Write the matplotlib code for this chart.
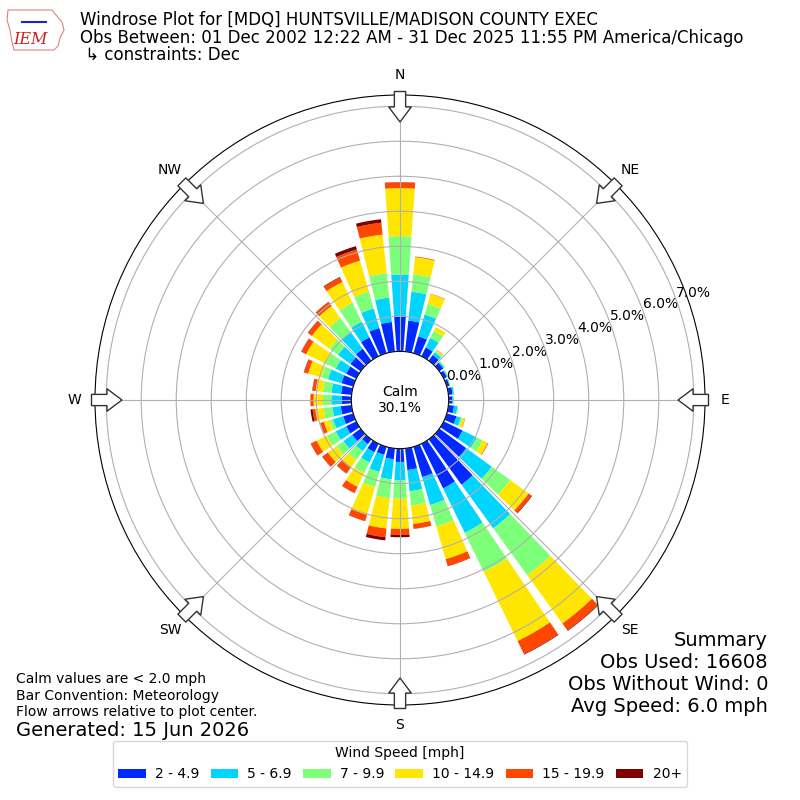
import numpy as np
import matplotlib
matplotlib.use("Agg")
import matplotlib.pyplot as plt
from matplotlib.patches import Polygon

# wind direction bins (degrees, from), 10 deg wide
directions = np.arange(0, 360, 10)

# frequency [% of all obs] per direction bin and speed class
spd_2_5 = [1.00, 0.89, 0.50, 0.28, 0.20, 0.14, 0.10, 0.08, 0.12, 0.10, 0.16, 0.29,
           0.60, 0.95, 1.60, 1.42, 0.90, 0.62, 0.38, 0.31, 0.24, 0.27, 0.17, 0.30,
           0.32, 0.30, 0.31, 0.28, 0.30, 0.35, 0.32, 0.36, 0.42, 0.60, 0.75, 0.85]
spd_5_7 = [1.19, 0.83, 0.65, 0.30, 0.10, 0.04, 0.03, 0.02, 0.04, 0.04, 0.10, 0.13,
           0.45, 0.90, 1.54, 1.41, 0.83, 0.61, 0.53, 0.58, 0.51, 0.33, 0.25, 0.31,
           0.33, 0.30, 0.24, 0.29, 0.28, 0.40, 0.33, 0.44, 0.58, 0.50, 0.58, 0.70]
spd_7_10 = [1.10, 0.50, 0.31, 0.22, 0.04, 0.02, 0.01, 0.01, 0.01, 0.01, 0.02, 0.04,
            0.19, 0.65, 1.66, 1.24, 0.64, 0.41, 0.52, 0.54, 0.45, 0.33, 0.31, 0.24,
            0.28, 0.10, 0.25, 0.24, 0.24, 0.20, 0.33, 0.30, 0.50, 0.60, 0.50, 0.70]
spd_10_15 = [1.37, 0.49, 0.30, 0.13, 0.04, 0.01, 0.01, 0.00, 0.00, 0.01, 0.01, 0.08,
             0.16, 0.65, 1.70, 2.20, 0.97, 0.53, 0.86, 0.87, 0.82, 0.44, 0.25, 0.31,
             0.33, 0.17, 0.24, 0.27, 0.21, 0.39, 0.61, 0.62, 0.43, 0.66, 0.92, 1.11]
spd_15_20 = [0.16, 0.02, 0.01, 0.00, 0.01, 0.00, 0.00, 0.00, 0.00, 0.00, 0.00, 0.01,
             0.02, 0.10, 0.24, 0.41, 0.20, 0.13, 0.17, 0.25, 0.18, 0.19, 0.22, 0.19,
             0.18, 0.10, 0.08, 0.09, 0.09, 0.12, 0.15, 0.14, 0.14, 0.14, 0.33, 0.34]
spd_20 = [0.01, 0.00, 0.00, 0.00, 0.00, 0.00, 0.00, 0.00, 0.00, 0.00, 0.00, 0.00,
          0.00, 0.02, 0.02, 0.02, 0.01, 0.01, 0.07, 0.09, 0.01, 0.01, 0.01, 0.01,
          0.01, 0.01, 0.06, 0.00, 0.01, 0.01, 0.01, 0.01, 0.01, 0.02, 0.10, 0.10]

speed_labels = ["2 - 4.9", "5 - 6.9", "7 - 9.9", "10 - 14.9", "15 - 19.9", "20+"]
calm_pct = 30.1
compass = ["N", "NE", "E", "SE", "S", "SW", "W", "NW"]
ring_ticks = [0, 1, 2, 3, 4, 5, 6, 7]

series = [spd_2_5, spd_5_7, spd_7_10, spd_10_15, spd_15_20, spd_20]
colors = plt.cm.jet(np.linspace(0, 1, 7)[1:])

fig = plt.figure(figsize=(8, 8), dpi=100)
ax = fig.add_axes([0.11875, 0.11875, 0.7625, 0.7625], projection="polar")
ax.set_theta_zero_location("N")
ax.set_theta_direction(-1)

theta = np.deg2rad(directions)
width = np.deg2rad(10) * 0.8
base = np.zeros(len(directions))
for vals, col, lab in zip(series, colors, speed_labels):
    vals = np.array(vals)
    ax.bar(theta, vals, width=width, bottom=base, color=col, label=lab,
           linewidth=0)
    base = base + vals

ax.set_rorigin(-1.39)
ax.set_ylim(0, 7.32)
ax.set_yticks(ring_ticks)
ax.set_yticklabels(["%.1f%%" % v for v in ring_ticks], fontsize=10)
ax.set_rlabel_position(70)
ax.set_xticks(np.deg2rad(np.arange(0, 360, 45)))
ax.set_xticklabels([])
ax.grid(True, color="#b0b0b0", lw=0.8)

# compass labels + flow arrows on the rim
for i, name in enumerate(compass):
    th = np.deg2rad(i * 45)
    ax.text(th, 7.9, name, ha="center", va="center", fontsize=10)
    ax.annotate("", xy=(th, 6.55), xytext=(th, 7.42), xycoords="data",
                annotation_clip=False,
                arrowprops=dict(arrowstyle="simple,head_length=0.6,head_width=0.9,tail_width=0.45",
                                fc="white", ec="#333333", lw=1,
                                shrinkA=0, shrinkB=0, mutation_scale=18))

ax.text(0.5, 0.5, "Calm\n%.1f%%" % calm_pct, transform=ax.transAxes,
        ha="center", va="center", fontsize=10)

# header
fig.text(0.1, 0.975, "Windrose Plot for [MDQ] HUNTSVILLE/MADISON COUNTY EXEC",
         fontsize=12, va="center")
fig.text(0.1, 0.953, "Obs Between: 01 Dec 2002 12:22 AM - 31 Dec 2025 11:55 PM America/Chicago",
         fontsize=12, va="center")
fig.text(0.1, 0.931, " \u21b3 constraints: Dec", fontsize=12, va="center")

# rough IEM logo
outline = np.array([[8, 10], [52, 10], [56, 15], [62, 22], [64, 30], [60, 38],
                    [58, 46], [54, 50], [14, 50], [12, 42], [10, 30], [7, 20]])
fig.patches.append(Polygon(np.column_stack([outline[:, 0] / 800, 1 - outline[:, 1] / 800]),
                           closed=True, fill=False, ec="#e08080", lw=0.8,
                           transform=fig.transFigure))
fig.lines.append(plt.Line2D([22 / 800, 46 / 800], [1 - 22 / 800, 1 - 22 / 800],
                            color="#2222cc", lw=1.5, transform=fig.transFigure))
fig.text(0.0375, 0.951, "IEM", color="#cc2222", fontsize=11.5, style="italic",
         family="DejaVu Serif", va="center", ha="center")

# footer notes
fig.text(0.02, 0.151, "Calm values are < 2.0 mph", fontsize=10, va="center")
fig.text(0.02, 0.130, "Bar Convention: Meteorology", fontsize=10, va="center")
fig.text(0.02, 0.110, "Flow arrows relative to plot center.", fontsize=10, va="center")
fig.text(0.02, 0.087, "Generated: 15 Jun 2026", fontsize=14, va="center")

summary = ["Summary", "Obs Used: 16608", "Obs Without Wind: 0", "Avg Speed: 6.0 mph"]
for i, line in enumerate(summary):
    fig.text(0.96, 0.2 - i * 0.0275, line, fontsize=14, ha="right", va="center")

leg = fig.legend(loc="lower center", bbox_to_anchor=(0.5, 0.008), ncol=6,
                 title="Wind Speed [mph]", fontsize=10, title_fontsize=10,
                 handlelength=2, handleheight=0.6, columnspacing=0.8,
                 handletextpad=0.65)

fig.savefig("out.png", dpi=100)
